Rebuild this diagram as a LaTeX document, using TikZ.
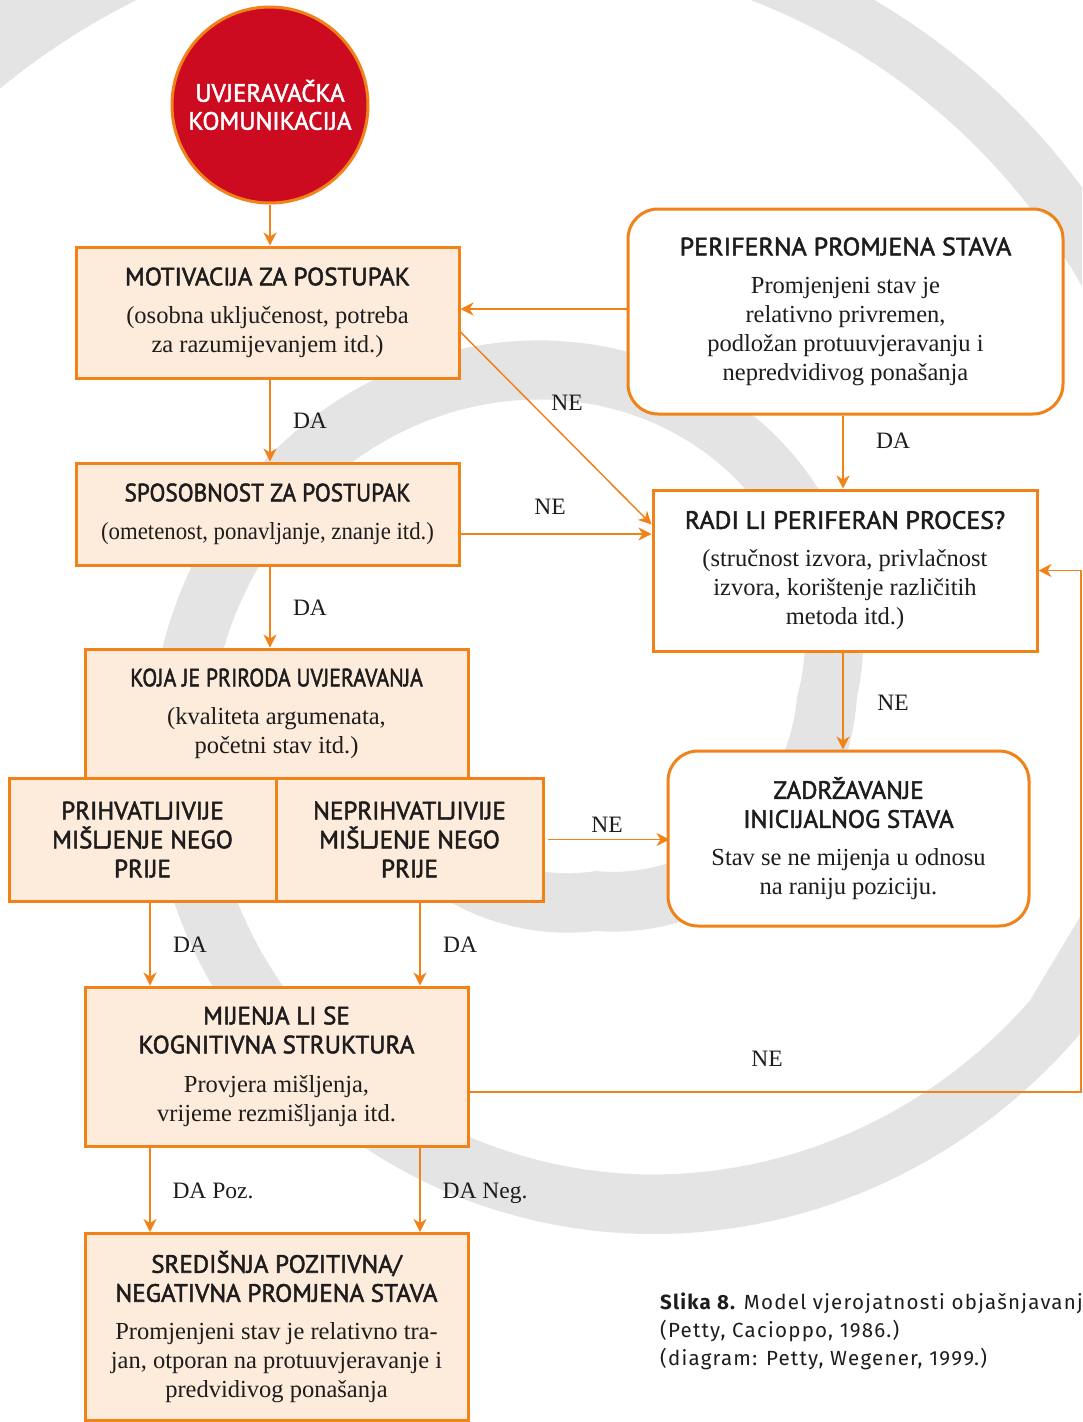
\documentclass[tikz,border=0pt]{standalone}
\usepackage{fontspec}
\setmainfont{Liberation Serif}
\newfontfamily\hdfont[FakeBold=2]{PT Sans}
\newfontfamily\capfont[LetterSpace=6]{Fira Sans}
\usetikzlibrary{arrows.meta}
\definecolor{org}{RGB}{240,130,25}
\definecolor{peach}{RGB}{253,235,220}
\definecolor{cred}{RGB}{204,10,32}
\definecolor{sgray}{RGB}{227,228,227}
\definecolor{ink}{RGB}{30,28,28}
\newcommand{\boxtitle}[1]{{\hdfont\fontsize{25}{29}\selectfont #1}}
\begin{document}
\begin{tikzpicture}[x=1pt,y=-1pt,
  box/.style={draw=org, line width=3pt, fill=peach, align=center, inner sep=0pt, text=ink,
    font=\fontsize{24.5}{29}\selectfont},
  rbox/.style={box, fill=white, rounded corners=30pt},
  wbox/.style={box, fill=white},
  conn/.style={draw=org, line width=1.5pt, -{Stealth[length=13pt,width=13pt,inset=4pt]}},
  lbl/.style={font=\fontsize{23.5}{29}\selectfont, text=ink, inner sep=0pt, anchor=base}]
\useasboundingbox (0,0) rectangle (1082,1422);
% background spiral
\begin{scope}
\clip (0,0) rectangle (1082,1422);
\fill[sgray]
  plot[domain=-130:-90, samples=15, variable=\t] ({596+(204-0.5*(\t+90)+30)*cos(\t)},{697-(204-0.5*(\t+90)+30)*sin(\t)})
  -- plot[domain=-90:0, samples=40, variable=\t] ({596+(231+0.3*\t+30)*cos(\t)},{697-(231+0.3*\t+30)*sin(\t)})
  -- plot[domain=0:325, samples=170, variable=\t] ({596+(231+1.011*\t+30)*cos(\t)},{697-(231+1.011*\t+30)*sin(\t)})
  -- plot[domain=-25:60, samples=45, variable=\t] ({519+700*cos(\t)},{603-700*sin(\t)})
  -- plot[domain=60:140, samples=45, variable=\t] ({519+(700+1.4*(\t-60))*cos(\t)},{603-(700+1.4*(\t-60))*sin(\t)})
  -- plot[domain=140:70, samples=40, variable=\t] ({519+(646+1.3*(\t-70))*cos(\t)},{603-(646+1.3*(\t-70))*sin(\t)})
  -- plot[domain=70:-25, samples=50, variable=\t] ({519+646*cos(\t)},{603-646*sin(\t)})
  -- plot[domain=325:0, samples=170, variable=\t] ({596+(231+1.011*\t-30)*cos(\t)},{697-(231+1.011*\t-30)*sin(\t)})
  -- plot[domain=0:-90, samples=40, variable=\t] ({596+(231+0.3*\t-30)*cos(\t)},{697-(231+0.3*\t-30)*sin(\t)})
  -- plot[domain=-90:-130, samples=15, variable=\t] ({596+(204-0.5*(\t+90)-30)*cos(\t)},{697-(204-0.5*(\t+90)-30)*sin(\t)})
  -- cycle;
\end{scope}
% start circle
\node[circle, draw=org, line width=3pt, fill=cred, minimum size=196pt, inner sep=0pt, align=center,
  text=white, font=\hdfont\fontsize{25}{28}\selectfont] (circ) at (270,105) {UVJERAVAČKA\\KOMUNIKACIJA};
% left column
\node[box, minimum width=383pt, minimum height=131pt] (motiv) at (267.5,312.5)
  {\boxtitle{MOTIVACIJA ZA POSTUPAK}\\[9pt](osobna uključenost, potreba\\za razumijevanjem itd.)};
\node[box, minimum width=383pt, minimum height=102pt] (spos) at (267.5,514)
  {\boxtitle{\scalebox{0.93}[1]{SPOSOBNOST ZA POSTUPAK}}\\[9pt]\scalebox{0.93}[1]{(ometenost, ponavljanje, znanje itd.)}};
\node[box, minimum width=383pt, minimum height=129pt] (koja) at (276.5,713.5)
  {\boxtitle{\scalebox{0.87}[1]{KOJA JE PRIRODA UVJERAVANJA}}\\[9pt](kvaliteta argumenata,\\početni stav itd.)};
\node[box, minimum width=267pt, minimum height=123pt] (prih) at (142.5,839.5)
  {\boxtitle{PRIHVATLJIVIJE}\\\boxtitle{MIŠLJENJE NEGO}\\\boxtitle{PRIJE}};
\node[box, minimum width=267pt, minimum height=123pt] (neprih) at (409.5,839.5)
  {\boxtitle{NEPRIHVATLJIVIJE}\\\boxtitle{MIŠLJENJE NEGO}\\\boxtitle{PRIJE}};
\node[box, minimum width=383pt, minimum height=159pt] (mij) at (276.5,1066.5)
  {\boxtitle{MIJENJA LI SE}\\\boxtitle{KOGNITIVNA STRUKTURA}\\[10pt]Provjera mišljenja,\\vrijeme rezmišljanja itd.};
\node[box, minimum width=383pt, minimum height=187pt] (sred) at (276.5,1327)
  {\boxtitle{SREDIŠNJA POZITIVNA/}\\\boxtitle{NEGATIVNA PROMJENA STAVA}\\[9pt]Promjenjeni stav je relativno tra-\\jan, otporan na protuuvjeravanje i\\predvidivog ponašanja};
% right column
\node[rbox, minimum width=435pt, minimum height=205pt] (perif) at (845.5,311.5)
  {\boxtitle{\scalebox{1.04}[1]{PERIFERNA PROMJENA STAVA}}\\[9pt]Promjenjeni stav je\\relativno privremen,\\podložan protuuvjeravanju i\\nepredvidivog ponašanja};
\node[wbox, minimum width=384pt, minimum height=161pt] (radi) at (845,570.5)
  {\boxtitle{\scalebox{1.03}[1]{RADI LI PERIFERAN PROCES?}}\\[9pt](stručnost izvora, privlačnost\\izvora, korištenje različitih\\metoda itd.)};
\node[rbox, minimum width=361pt, minimum height=175pt] (zadr) at (848.5,838.5)
  {\boxtitle{ZADRŽAVANJE}\\\boxtitle{INICIJALNOG STAVA}\\[9pt]Stav se ne mijenja u odnosu\\na raniju poziciju.};
% connectors
\draw[conn] (circ.south) -- (circ.south |- motiv.north);
\draw[conn] ([xshift=2.5pt]motiv.south) -- ([xshift=2.5pt]motiv.south |- spos.north);
\draw[conn] ([xshift=2.5pt]spos.south) -- ([xshift=2.5pt]spos.south |- koja.north);
\draw[conn] ([yshift=2.5pt]perif.west) -- ([yshift=2.5pt]perif.west -| motiv.east);
\draw[conn] ([yshift=-19.5pt]motiv.east) -- ([yshift=46pt]radi.west);
\draw[conn] ([yshift=-20pt]spos.east) -- ([yshift=-20pt]spos.east -| radi.west);
\draw[conn] ([xshift=-2.5pt]perif.south) -- ([xshift=-2.5pt]perif.south |- radi.north);
\draw[conn] ([xshift=-2pt]radi.south) -- ([xshift=-2pt]radi.south |- zadr.north);
\draw[conn] ([xshift=3pt]neprih.east) -- ([xshift=3pt]neprih.east -| zadr.west);
\draw[conn] ([xshift=7.5pt]prih.south) -- ([xshift=7.5pt]prih.south |- mij.north);
\draw[conn] ([xshift=10.5pt]neprih.south) -- ([xshift=10.5pt]neprih.south |- mij.north);
\draw[conn] ([xshift=-126.5pt]mij.south) -- ([xshift=-126.5pt]mij.south |- sred.north);
\draw[conn] ([xshift=143.5pt]mij.south) -- ([xshift=143.5pt]mij.south |- sred.north);
\coordinate (loopc) at (1081,1092);
\draw[conn] ([yshift=-25.5pt]mij.east) -- (loopc) |- (radi.east);
% labels
\node[lbl] (la1) at (310,428) {DA};
\node[lbl] (la2) at (310,615) {DA};
\node[lbl] (ln1) at (567,410) {NE};
\node[lbl] (ln2) at (550,514) {NE};
\node[lbl] (la3) at (893,448) {DA};
\node[lbl] (ln3) at (893,710) {NE};
\node[lbl] (ln4) at (607,832) {NE};
\node[lbl] (la4) at (190,952) {DA};
\node[lbl] (la5) at (460,952) {DA};
\node[lbl] (la6) at (213,1198) {DA Poz.};
\node[lbl] (la7) at (485,1198) {DA Neg.};
\node[lbl] (ln5) at (767,1066) {NE};
% caption
\node[anchor=base west, align=left, inner sep=0pt, text=ink, font=\capfont\fontsize{20.5}{28}\selectfont] (cap) at (660,1365)
  {{\bfseries Slika 8.} Model vjerojatnosti objašnjavanj\\(Petty, Cacioppo, 1986.)\\(diagram: Petty, Wegener, 1999.)};
\end{tikzpicture}
\end{document}
